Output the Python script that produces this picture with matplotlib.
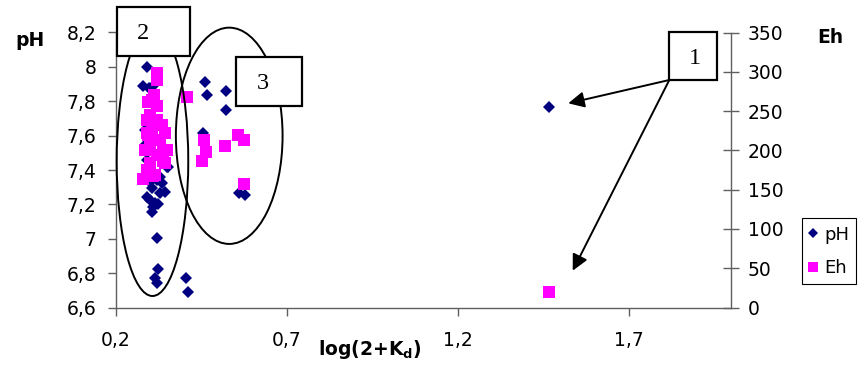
import matplotlib
matplotlib.use("Agg")
import matplotlib.pyplot as plt
from matplotlib.patches import Ellipse, Rectangle
from matplotlib.ticker import FuncFormatter, MultipleLocator

plt.rcParams['font.family'] = ['DejaVu Sans']

# pH values (x = log(2+Kd))
ph_x = [0.290, 0.280, 0.309, 0.297, 0.460, 0.465, 0.521, 0.521, 0.455, 0.353,
        0.561, 0.578, 0.319, 0.324, 0.314, 0.319, 0.405, 0.412,
        0.305, 0.329, 0.300, 0.309, 0.334, 0.319, 0.290, 0.343, 0.348, 0.329,
        0.305, 0.291, 0.285, 0.285, 0.291, 0.300, 0.305,
        0.314, 0.300, 0.324, 1.467]
ph_y = [8.00, 7.89, 7.89, 7.88, 7.914, 7.836, 7.861, 7.749, 7.613, 7.419,
        7.268, 7.255, 7.003, 6.822, 6.770, 6.741, 6.770, 6.692,
        7.294, 7.264, 7.225, 7.186, 7.323, 7.342, 7.245, 7.274, 7.419, 7.361,
        7.156, 7.38, 7.63, 7.545, 7.46, 7.69, 7.81,
        7.21, 7.33, 7.20, 7.765]

# Eh values (mV)
eh_x = [0.319, 0.319, 0.311, 0.305, 0.319, 0.300, 0.407, 0.290, 0.319, 0.334,
        0.343, 0.290, 0.300, 0.348, 0.319, 0.300, 0.343, 0.290, 0.280, 0.309,
        0.458, 0.463, 0.453, 0.519, 0.558, 0.575, 0.575,
        0.305, 0.329, 0.285, 0.294, 0.338, 0.338, 0.314, 0.294, 1.467]
eh_y = [299, 290, 270, 264, 256, 245, 268, 239, 239, 232,
        222, 222, 209, 200, 194, 184, 184, 175, 164, 167,
        213, 198, 187, 206, 220, 213, 157,
        229, 213, 200, 219, 198, 186, 169, 262, 20]

def comma_fmt(v, pos):
    s = ('%.1f' % v).rstrip('0').rstrip('.')
    return s.replace('.', ',')

fig = plt.figure(figsize=(8.61, 3.66), dpi=100)
fig.subplots_adjust(left=116/861, right=731/861, top=1-32.5/366, bottom=1-307.5/366)
ax = fig.add_subplot(111)
ax2 = ax.twinx()

axis_col = '#606060'
fs = 13.5

p1, = ax.plot(ph_x, ph_y, 'D', color='#000080', markersize=6.5, markeredgewidth=0, label='pH')
p2, = ax2.plot(eh_x, eh_y, 's', color='#FF00FF', markersize=8, markeredgewidth=0, label='Eh')

ax.set_xlim(0.2, 2.0)
ax.set_ylim(6.6, 8.2)
ax2.set_ylim(0, 350)
ax.set_xticks([0.2, 0.7, 1.2, 1.7])
ax.yaxis.set_major_locator(MultipleLocator(0.2))
ax2.yaxis.set_major_locator(MultipleLocator(50))
ax.xaxis.set_major_formatter(FuncFormatter(comma_fmt))
ax.yaxis.set_major_formatter(FuncFormatter(comma_fmt))

for a in (ax, ax2):
    a.spines['top'].set_visible(False)
    for sp in a.spines.values():
        sp.set_color(axis_col)
        sp.set_linewidth(1.0)
ax.spines['right'].set_visible(False)
ax2.spines['left'].set_visible(False)
ax2.spines['bottom'].set_visible(False)

ax.tick_params(axis='y', direction='out', length=6, width=1, color=axis_col, pad=8, labelsize=fs)
ax.tick_params(axis='x', direction='out', length=6, width=1, color=axis_col, pad=11, labelsize=fs)
ax2.tick_params(axis='y', direction='inout', length=12, width=1, color=axis_col, pad=6, labelsize=fs)

# axis titles
fig.text(30/861, 1-40/366, 'pH', fontsize=fs, fontweight='bold', ha='center', va='center')
fig.text(830/861, 1-37.5/366, 'Eh', fontsize=fs, fontweight='bold', ha='center', va='center')
fig.text(370/861, 1-349.5/366, r'log(2+K$_\mathregular{d}$)', fontsize=fs, fontweight='bold',
         ha='center', va='center')

# ellipses around groups 2 and 3
tr = ax2.transAxes
ax2.add_patch(Ellipse((0.0593, 0.5327), 0.1164, 0.9818, transform=tr, fill=False,
                      edgecolor='black', lw=1.4, clip_on=False, zorder=5))
ax2.add_patch(Ellipse((0.1841, 0.6244), 0.1735, 0.7865, transform=tr, fill=False,
                      edgecolor='black', lw=1.4, clip_on=False, zorder=5))

# arrows from box 1
for tip in [(0.7354, 0.7425), (0.7426, 0.1338)]:
    ax2.annotate('', xy=tip, xycoords='axes fraction', xytext=(0.8997, 0.8273),
                 textcoords='axes fraction',
                 arrowprops=dict(arrowstyle='-|>', color='black', lw=1.4,
                                 mutation_scale=24, shrinkA=0, shrinkB=0), zorder=6)

# numbered boxes
boxes = [((0.0011, 0.9145), 0.1187, 0.1771, '2', (0.0444, 0.9975)),
         ((0.1951, 0.7327), 0.1068, 0.1771, '3', (0.2385, 0.8153)),
         ((0.8997, 0.8273), 0.0780, 0.1735, '1', (0.9415, 0.9062))]
for xy, w, h, lab, txy in boxes:
    ax2.add_patch(Rectangle(xy, w, h, transform=tr, facecolor='white', edgecolor='black',
                            lw=1.6, clip_on=False, zorder=7))
    ax2.text(txy[0], txy[1], lab, transform=tr, fontsize=17.5, family='Liberation Serif',
             ha='center', va='center', zorder=8)

leg = fig.legend(handles=[p1, p2], loc='upper left', bbox_to_anchor=(801.7/861, 1-218.3/366),
                 fontsize=13, fancybox=False, edgecolor='black', framealpha=1,
                 handlelength=0.5, handletextpad=0.35, labelspacing=0.85, borderpad=0.4,
                 borderaxespad=0, markerscale=0.85)
leg.get_frame().set_linewidth(0.8)

plt.savefig('out.png', dpi=100)
